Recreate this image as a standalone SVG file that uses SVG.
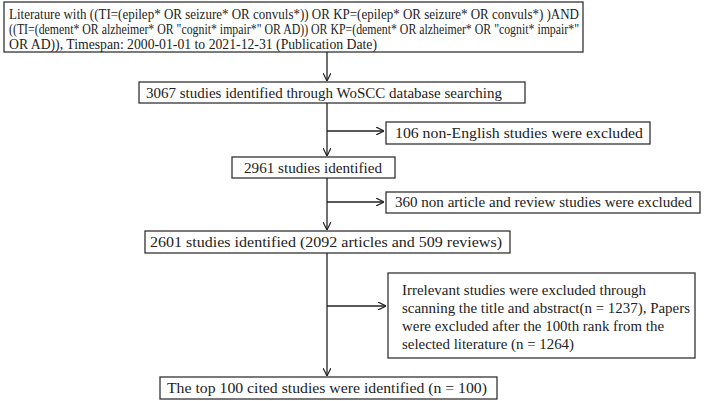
<svg xmlns="http://www.w3.org/2000/svg" width="708" height="401" viewBox="0 0 708 401">
<defs>
<marker id="ah" viewBox="0 0 10 10" refX="10" refY="5" markerWidth="8" markerHeight="8" orient="auto" markerUnits="userSpaceOnUse"><path d="M0,0 L10,5 L0,10" fill="none" stroke="#222" stroke-width="1.5"/></marker>
<style>
rect{fill:#fff;stroke:#333;stroke-width:1.3}
text{font-family:"Liberation Serif","Times New Roman",serif;font-size:14px;fill:#222}
.c line{stroke:#222;stroke-width:1.3}
</style>
</defs>
<rect x="0" y="0" width="708" height="401" style="stroke:none"/>
<g id="n1"><rect x="4" y="2" width="579" height="50"/>
<text x="9" y="19" textLength="570" lengthAdjust="spacingAndGlyphs">Literature with ((TI=(epilep* OR seizure* OR convuls*)) OR KP=(epilep* OR seizure* OR convuls*) )AND</text>
<text x="9" y="34" textLength="570" lengthAdjust="spacingAndGlyphs">((TI=(dement* OR alzheimer* OR "cognit* impair*" OR AD)) OR KP=(dement* OR alzheimer* OR "cognit* impair*"</text>
<text x="9" y="49" textLength="368" lengthAdjust="spacingAndGlyphs">OR AD)), Timespan: 2000-01-01 to 2021-12-31 (Publication Date)</text></g>
<g id="n2"><rect x="139" y="82" width="386" height="21"/><text x="146" y="98" textLength="356" lengthAdjust="spacingAndGlyphs">3067 studies identified through WoSCC database searching</text></g>
<g id="n3"><rect x="386" y="122" width="264" height="22"/><text x="395" y="138" textLength="248" lengthAdjust="spacingAndGlyphs">106 non-English studies were excluded</text></g>
<g id="n4"><rect x="232" y="157" width="163" height="21"/><text x="244" y="173" textLength="138" lengthAdjust="spacingAndGlyphs">2961 studies identified</text></g>
<g id="n5"><rect x="386" y="192" width="314" height="21"/><text x="395" y="207" textLength="297" lengthAdjust="spacingAndGlyphs">360 non article and review studies were excluded</text></g>
<g id="n6"><rect x="145" y="231" width="365" height="22"/><text x="150" y="247" textLength="352" lengthAdjust="spacingAndGlyphs">2601 studies identified  (2092 articles and 509 reviews)</text></g>
<g id="n7"><rect x="388" y="273" width="307" height="85"/>
<text x="402" y="295" textLength="244" lengthAdjust="spacingAndGlyphs">Irrelevant studies were excluded through</text>
<text x="402" y="313" textLength="288" lengthAdjust="spacingAndGlyphs">scanning the title and abstract(n = 1237), Papers</text>
<text x="402" y="331" textLength="262" lengthAdjust="spacingAndGlyphs">were excluded after the 100th rank from the</text>
<text x="402" y="349" textLength="172" lengthAdjust="spacingAndGlyphs">selected literature (n = 1264)</text></g>
<g id="n8"><rect x="160" y="377" width="337" height="22"/><text x="167" y="393" textLength="320" lengthAdjust="spacingAndGlyphs">The top 100 cited studies were  identified  (n = 100)</text></g>
<g class="c" id="connectors">
<line x1="327" y1="52" x2="327" y2="81" marker-end="url(#ah)"/>
<line x1="327" y1="103" x2="327" y2="156" marker-end="url(#ah)"/>
<line x1="327" y1="131" x2="384" y2="131" marker-end="url(#ah)"/>
<line x1="327" y1="178" x2="327" y2="230" marker-end="url(#ah)"/>
<line x1="327" y1="202" x2="384" y2="202" marker-end="url(#ah)"/>
<line x1="327" y1="253" x2="327" y2="376" marker-end="url(#ah)"/>
<line x1="327" y1="306" x2="386" y2="306" marker-end="url(#ah)"/>
</g>
</svg>
